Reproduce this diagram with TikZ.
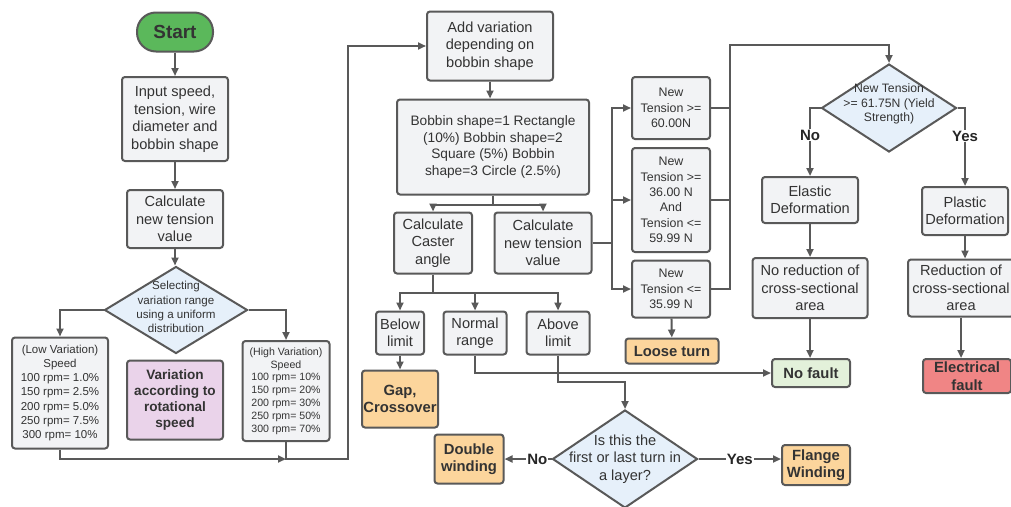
\documentclass[tikz,border=0pt]{standalone}
\usepackage{fontspec}
\setmainfont{Liberation Sans}
\usetikzlibrary{shapes.geometric,arrows.meta}
\definecolor{edgegray}{HTML}{595959}
\definecolor{boxgray}{HTML}{F2F3F5}
\definecolor{startgreen}{HTML}{5BB85B}
\definecolor{decblue}{HTML}{E6F0FA}
\definecolor{speedpink}{HTML}{EAD3EA}
\definecolor{faultorange}{HTML}{FCD59C}
\definecolor{okgreen}{HTML}{E3F1DA}
\definecolor{errred}{HTML}{F08585}
\tikzset{
    procbox/.style={draw=edgegray,line width=2pt,fill=boxgray,rounded corners=3pt,
        align=center,inner sep=1pt,text=black!80,font=\fontsize{14.6}{17.5}\selectfont},
    faultbox/.style={procbox,fill=faultorange,font=\fontsize{14.8}{17.5}\selectfont\bfseries},
    speedbox/.style={procbox,fill=speedpink,font=\fontsize{13.6}{16.3}\selectfont\bfseries},
    okbox/.style={faultbox,fill=okgreen},
    errbox/.style={faultbox,fill=errred},
    termbox/.style={procbox,fill=startgreen,rounded corners=19pt,font=\fontsize{18.9}{20}\selectfont\bfseries},
    decision/.style={diamond,draw=edgegray,line width=2pt,fill=decblue,inner sep=0pt},
    dectext/.style={align=center,inner sep=0pt,text=black!80,font=\fontsize{14.6}{17.5}\selectfont},
    arr/.style={draw=edgegray,line width=2pt,-{Triangle[length=8pt,width=7pt]}},
    conn/.style={draw=edgegray,line width=2pt},
    lbl/.style={fill=white,inner sep=1pt,text=black!85,font=\fontsize{15}{17}\selectfont\bfseries}
}
\begin{document}
\begin{tikzpicture}[x=1pt,y=-1pt]
    \useasboundingbox[fill=white] (0,0) rectangle (1011,506);

    % left column
    \node[termbox,minimum width=76,minimum height=39] (start) at (175,32) {Start};
    \node[procbox,minimum width=106,minimum height=84] (input) at (175,119) {Input speed,\\tension, wire\\diameter and\\bobbin shape};
    \node[procbox,minimum width=96,minimum height=58] (calc1) at (175,219) {Calculate\\new tension\\value};
    \node[decision,minimum width=143,minimum height=87] (select) at (176,310) {};
    \node[dectext,font=\fontsize{11.6}{14.3}\selectfont] (selecttxt) at (176,307) {Selecting\\variation range\\using a uniform\\distribution};
    \node[procbox,minimum width=96,minimum height=111,font=\fontsize{11.5}{14.2}\selectfont] (low) at (60,393)
        {(Low Variation)\\Speed\\100 rpm= 1.0\%\\150 rpm= 2.5\%\\200 rpm= 5.0\%\\250 rpm= 7.5\%\\300 rpm= 10\%};
    \node[procbox,minimum width=87,minimum height=100,font=\fontsize{10.6}{12.8}\selectfont] (high) at (286,391)
        {(High Variation)\\Speed\\100 rpm= 10\%\\150 rpm= 20\%\\200 rpm= 30\%\\250 rpm= 50\%\\300 rpm= 70\%};
    \node[speedbox,minimum width=96,minimum height=79] (varspeed) at (175,400) {Variation\\according to\\rotational\\speed};

    % middle column
    \node[procbox,minimum width=126,minimum height=69] (addvar) at (490,46) {Add variation\\depending on\\bobbin shape};
    \node[procbox,minimum width=192,minimum height=95,font=\fontsize{13.7}{16.7}\selectfont] (bobbin) at (493,147)
        {Bobbin shape=1 Rectangle\\(10\%) Bobbin shape=2\\Square (5\%) Bobbin\\shape=3 Circle (2.5\%)};
    \node[procbox,minimum width=78,minimum height=61] (caster) at (433,243) {Calculate\\Caster\\angle};
    \node[procbox,minimum width=97,minimum height=61] (calc2) at (543,243) {Calculate\\new tension\\value};
    \node[procbox,minimum width=48,minimum height=43] (below) at (400,333) {Below\\limit};
    \node[procbox,minimum width=63,minimum height=43] (normal) at (475,333) {Normal\\range};
    \node[procbox,minimum width=63,minimum height=43] (above) at (558,333) {Above\\limit};
    \node[faultbox,minimum width=76,minimum height=57] (gap) at (400,399) {Gap,\\Crossover};
    \node[decision,minimum width=145,minimum height=98] (isfirst) at (625,459) {};
    \node[dectext] (isfirsttxt) at (625,459) {Is this the\\first or last turn in\\a layer?};
    \node[faultbox,minimum width=69,minimum height=49] (dbl) at (469,459) {Double\\winding};
    \node[faultbox,minimum width=68,minimum height=40] (flange) at (816,465) {Flange\\Winding};

    % tension checks
    \node[procbox,minimum width=78,minimum height=62,font=\fontsize{12.4}{15.3}\selectfont] (t1) at (671,108) {New\\Tension >=\\60.00N};
    \node[procbox,minimum width=78,minimum height=104,font=\fontsize{12.4}{15.3}\selectfont] (t2) at (671,200)
        {New\\Tension >=\\36.00 N\\And\\Tension <=\\59.99 N};
    \node[procbox,minimum width=78,minimum height=57,font=\fontsize{12.4}{15.3}\selectfont] (t3) at (671,289) {New\\Tension <=\\35.99 N};
    \node[faultbox,minimum width=93,minimum height=25] (loose) at (672,351) {Loose turn};

    % right column
    \node[decision,minimum width=135,minimum height=88] (yield) at (889,108) {};
    \node[dectext,font=\fontsize{12.2}{14.2}\selectfont] (yieldtxt) at (889,104) {New Tension\\>= 61.75N (Yield\\Strength)};
    \node[procbox,minimum width=96,minimum height=46] (elastic) at (810,200) {Elastic\\Deformation};
    \node[procbox,minimum width=115,minimum height=60] (noreduc) at (810,288) {No reduction of\\cross-sectional\\area};
    \node[okbox,minimum width=78,minimum height=28] (nofault) at (811,373) {No fault};
    \node[procbox,minimum width=86,minimum height=48] (plastic) at (965,211) {Plastic\\Deformation};
    \node[procbox,minimum width=106,minimum height=57] (reduc) at (961,288) {Reduction of\\cross-sectional\\area};
    \node[errbox,minimum width=88,minimum height=34] (elecfault) at (967,376) {Electrical\\fault};

    \coordinate (join) at (286,459);
    \coordinate (loopcorner) at (348,459);
    \coordinate (bsplit) at (493,205);
    \coordinate (csplit) at (433,293);
    \coordinate (abovebend) at (625,382);
    \coordinate (tfork) at (612,243);
    \coordinate (tjoin) at (730,45);

    \draw[arr] (start) -- (input);
    \draw[arr] (input) -- (calc1);
    \draw[arr] (calc1.south) -- (calc1.south |- select.north);
    \draw[arr] (select.west) -| (low.north);
    \draw[arr] (select.east) -| (high.north);
    \draw[arr] (low.south) |- (join);
    \draw[arr] (high.south) -- (join) -- (loopcorner) |- (addvar.west);

    \draw[arr] (addvar.south) -- (addvar.south |- bobbin.north);
    \draw[conn] (bobbin.south) -- (bsplit);
    \draw[arr] (bsplit) -| (caster.north);
    \draw[arr] (bsplit) -| (calc2.north);
    \draw[conn] (caster.south) -- (csplit);
    \draw[arr] (csplit) -| (below.north);
    \draw[arr] (csplit) -| (normal.north);
    \draw[arr] (csplit) -| (above.north);
    \draw[arr] (below) -- (gap);
    \draw[arr] (normal.south) |- (nofault.west);
    \draw[arr] (above.south) |- (abovebend) -- (isfirst.north);
    \draw[arr] (isfirst.west) -- node[lbl,pos=0.3] {No} (dbl.east);
    \draw[arr] (isfirst.east) -- node[lbl,pos=0.5] {Yes} (isfirst.east -| flange.west);

    \draw[conn] (calc2.east) -- (tfork);
    \draw[arr] (tfork) |- (t1.west);
    \draw[arr] (tfork) |- (t2.west);
    \draw[arr] (tfork) |- (t3.west);
    \draw[arr] (t3) -- (loose);
    \draw[conn] (t1.east) -- (t1.east -| tjoin);
    \draw[conn] (t2.east) -- (t2.east -| tjoin);
    \draw[arr] (t3.east) -| (tjoin) -| (yield.north);

    \draw[arr] (yield.west) -| node[lbl,pos=0.7] {No} (elastic.north);
    \draw[arr] (yield.east) -| node[lbl,pos=0.68] {Yes} (plastic.north);
    \draw[arr] (elastic) -- (noreduc);
    \draw[arr] (noreduc.south) -- (noreduc.south |- nofault.north);
    \draw[arr] (plastic.south) -- (plastic.south |- reduc.north);
    \draw[arr] (reduc.south) -- (reduc.south |- elecfault.north);
\end{tikzpicture}
\end{document}
